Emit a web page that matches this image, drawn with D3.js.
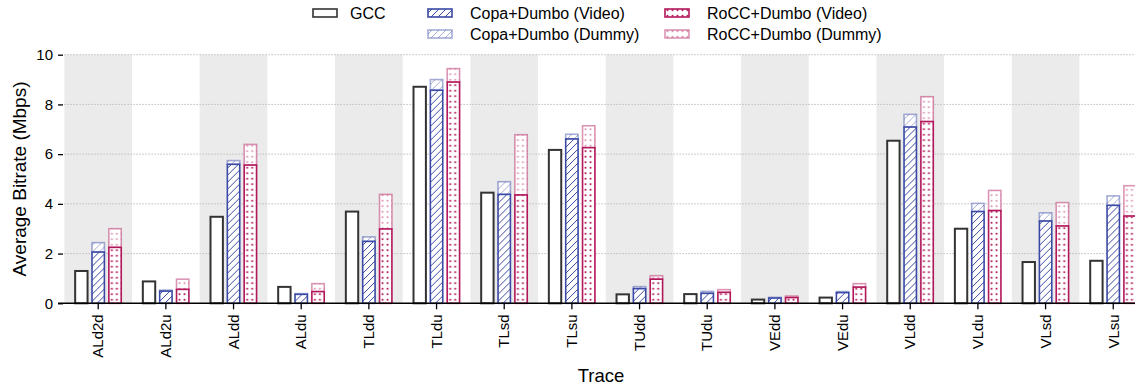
<!DOCTYPE html>
<html>
<head>
<meta charset="utf-8">
<script src="https://cdn.jsdelivr.net/npm/d3@7/dist/d3.min.js"></script>
<style>
  html, body { margin: 0; padding: 0; background: #fff; }
  svg { display: block; font-family: "Liberation Sans", Arial, sans-serif; }
</style>
</head>
<body>
<svg id="chart" width="1135" height="389"></svg>
<script>
// Traces on the x axis
const traces = ["ALd2d", "ALd2u", "ALdd", "ALdu", "TLdd", "TLdu", "TLsd", "TLsu",
                "TUdd", "TUdu", "VEdd", "VEdu", "VLdd", "VLdu", "VLsd", "VLsu"];

// Average bitrate (Mbps)
const gcc = [1.30, 0.88, 3.48, 0.66, 3.69, 8.71, 4.45, 6.17,
             0.36, 0.37, 0.15, 0.23, 6.54, 3.00, 1.66, 1.71];
const copaVideo = [2.06, 0.49, 5.59, 0.36, 2.49, 8.57, 4.38, 6.61,
                   0.59, 0.40, 0.21, 0.43, 7.09, 3.69, 3.31, 3.94];
// video + dummy traffic
const copaTotal = [2.44, 0.53, 5.74, 0.39, 2.67, 9.00, 4.89, 6.80,
                   0.67, 0.48, 0.24, 0.47, 7.60, 4.02, 3.64, 4.32];
const roccVideo = [2.25, 0.56, 5.56, 0.47, 2.99, 8.90, 4.36, 6.26,
                   0.97, 0.44, 0.23, 0.65, 7.31, 3.73, 3.11, 3.51];
const roccTotal = [3.00, 0.97, 6.39, 0.79, 4.38, 9.44, 6.78, 7.14,
                   1.11, 0.55, 0.29, 0.79, 8.31, 4.54, 4.05, 4.73];

const yTicks = [0, 2, 4, 6, 8, 10];
const groups = ["gcc", "copa", "rocc"];

const BLUE = "#3a49a5";
const RED = "#b2175a";

const svg = d3.select("#chart");
const W = 1135, H = 389;
const plotTop = 54.7, plotBottom = 303.3;
const step = 67.67;
const plotLeft = 98.2 - step / 2;

const x0 = d3.scaleBand().domain(traces)
  .range([plotLeft, plotLeft + step * traces.length]).padding(0);
const x1 = d3.scaleBand().domain(groups)
  .range([10, x0.bandwidth() - 10]).paddingInner(0.17).paddingOuter(0);
const y = d3.scaleLinear().domain([0, 10]).range([plotBottom, plotTop]);

// patterns
const defs = svg.append("defs");
function hatch(id, color, op) {
  const p = defs.append("pattern").attr("id", id)
    .attr("patternUnits", "userSpaceOnUse").attr("width", 7).attr("height", 7);
  p.append("path").attr("d", "M-1,1 l2,-2 M0,7 l7,-7 M6,8 l2,-2")
    .attr("stroke", color).attr("stroke-opacity", op).attr("stroke-width", 1);
}
function dots(id, color, op) {
  const p = defs.append("pattern").attr("id", id)
    .attr("patternUnits", "userSpaceOnUse").attr("width", 5).attr("height", 5.5);
  p.append("rect").attr("x", 1.6).attr("y", 1.8).attr("width", 1.8).attr("height", 1.8)
    .attr("fill", color).attr("fill-opacity", op);
}
hatch("hatchV", BLUE, 1);
hatch("hatchD", BLUE, 0.45);
dots("dotsV", RED, 1);
dots("dotsD", RED, 0.45);

// alternating shaded bands
svg.append("g").selectAll("rect")
  .data(traces.filter((d, i) => i % 2 === 0))
  .join("rect")
  .attr("x", d => x0(d)).attr("y", y(10))
  .attr("width", x0.bandwidth()).attr("height", y(0) - y(10))
  .attr("fill", "#ebebeb");

// grid lines
svg.append("g").selectAll("line")
  .data(yTicks.filter(t => t > 0))
  .join("line")
  .attr("x1", plotLeft).attr("x2", W)
  .attr("y1", d => y(d)).attr("y2", d => y(d))
  .attr("stroke", "#bdbdbd").attr("stroke-width", 1)
  .attr("stroke-dasharray", "1.5,1.5");

// bars
const bars = svg.append("g");
traces.forEach((t, i) => {
  const g = bars.append("g").attr("transform", `translate(${x0(t)},0)`);
  const bw = x1.bandwidth();
  const sw = 1.6;
  // GCC
  g.append("rect")
    .attr("x", x1("gcc") + sw / 2).attr("y", y(gcc[i]))
    .attr("width", bw - sw).attr("height", y(0) - y(gcc[i]))
    .attr("fill", "#fff").attr("stroke", "#333").attr("stroke-width", 2);
  // video part with the dummy part stacked on top
  const stack = [
    { key: "copa", v: copaVideo[i], tot: copaTotal[i], c: BLUE, pv: "hatchV", pd: "hatchD" },
    { key: "rocc", v: roccVideo[i], tot: roccTotal[i], c: RED, pv: "dotsV", pd: "dotsD" }
  ];
  stack.forEach(s => {
    const bx = x1(s.key) + sw / 2;
    g.append("rect")
      .attr("x", bx).attr("y", y(s.tot))
      .attr("width", bw - sw).attr("height", y(s.v) - y(s.tot))
      .attr("fill", "#fff");
    g.append("rect")
      .attr("x", bx).attr("y", y(s.tot))
      .attr("width", bw - sw).attr("height", y(s.v) - y(s.tot))
      .attr("fill", `url(#${s.pd})`)
      .attr("stroke", s.c).attr("stroke-opacity", 0.45).attr("stroke-width", sw);
    g.append("rect")
      .attr("x", bx).attr("y", y(s.v))
      .attr("width", bw - sw).attr("height", y(0) - y(s.v))
      .attr("fill", "#fff");
    g.append("rect")
      .attr("x", bx).attr("y", y(s.v))
      .attr("width", bw - sw).attr("height", y(0) - y(s.v))
      .attr("fill", `url(#${s.pv})`)
      .attr("stroke", s.c).attr("stroke-width", sw);
  });
});

// x axis
const xAxis = svg.append("g")
  .attr("transform", `translate(0,${plotBottom})`)
  .call(d3.axisBottom(x0).tickSize(6).tickSizeOuter(0).tickPadding(4));
xAxis.select(".domain").remove();
xAxis.append("line").attr("x1", 58).attr("x2", W).attr("y1", 0).attr("y2", 0)
  .attr("stroke", "#000").attr("stroke-width", 1.5);
xAxis.selectAll(".tick line").attr("stroke", "#000").attr("stroke-width", 1.3);
xAxis.selectAll(".tick text")
  .attr("transform", "rotate(-90)")
  .attr("text-anchor", "end")
  .attr("x", -11).attr("y", 0).attr("dy", "0.35em")
  .attr("font-size", 15).attr("fill", "#000")
  .attr("font-family", "Liberation Sans, Arial, sans-serif");

// y axis
const yAxis = svg.append("g")
  .attr("transform", `translate(63,0)`)
  .call(d3.axisLeft(y).tickValues(yTicks).tickSize(5).tickPadding(5));
yAxis.select(".domain").remove();
yAxis.selectAll(".tick line").attr("stroke", "#000").attr("stroke-width", 1.3);
yAxis.selectAll(".tick text").attr("font-size", 15).attr("fill", "#000")
  .attr("font-family", "Liberation Sans, Arial, sans-serif");

// axis titles
svg.append("text")
  .attr("transform", `translate(26,${(plotTop + plotBottom) / 2}) rotate(-90)`)
  .attr("text-anchor", "middle").attr("font-size", 19).text("Average Bitrate (Mbps)");
svg.append("text")
  .attr("x", 601).attr("y", 382)
  .attr("text-anchor", "middle").attr("font-size", 18.5).text("Trace");

// legend
const legendItems = [
  { label: "GCC", x: 313, y: 13, fill: "#fff", stroke: "#333", op: 1 },
  { label: "Copa+Dumbo (Video)", x: 428, y: 13, fill: "url(#hatchV)", stroke: BLUE, op: 1 },
  { label: "Copa+Dumbo (Dummy)", x: 428, y: 34, fill: "url(#hatchD)", stroke: BLUE, op: 0.45 },
  { label: "RoCC+Dumbo (Video)", x: 665, y: 13, fill: "url(#dotsV)", stroke: RED, op: 1 },
  { label: "RoCC+Dumbo (Dummy)", x: 665, y: 34, fill: "url(#dotsD)", stroke: RED, op: 0.45 }
];
const lg = svg.append("g").selectAll("g").data(legendItems).join("g")
  .attr("transform", d => `translate(${d.x},${d.y})`);
lg.append("rect").attr("x", 0).attr("y", -4).attr("width", 24).attr("height", 8)
  .attr("fill", "#fff");
lg.append("rect").attr("x", 0).attr("y", -4).attr("width", 24).attr("height", 8)
  .attr("fill", d => d.fill).attr("stroke", d => d.stroke)
  .attr("stroke-opacity", d => d.op).attr("stroke-width", 1.6);
lg.append("text").attr("x", d => d.label === "GCC" ? 37 : 42).attr("y", 0).attr("dy", "0.35em")
  .attr("font-size", 16).text(d => d.label);
</script>
</body>
</html>
